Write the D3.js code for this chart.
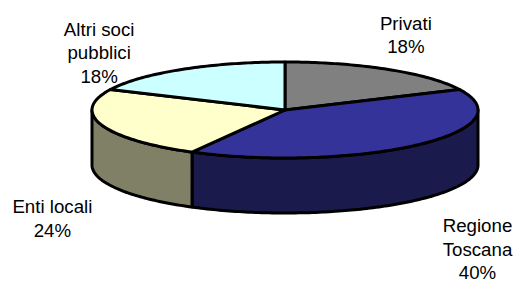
<!DOCTYPE html>
<html>
<head>
<meta charset="utf-8">
<script src="https://cdn.jsdelivr.net/npm/d3@7"></script>
<style>
  html, body { margin: 0; padding: 0; background: #fff; }
  text { font-family: 'Liberation Sans', Arial, sans-serif; }
</style>
</head>
<body>
<div id="chart"></div>
<script>
// data
const categories = ['Privati', 'Regione Toscana', 'Enti locali', 'Altri soci pubblici'];
const labelLines = [['Privati'], ['Regione', 'Toscana'], ['Enti locali'], ['Altri soci', 'pubblici']];
const shares = [18, 40, 24, 18];
const topColors = ['#808080', '#333399', '#ffffcc', '#ccffff'];
const sideColors = ['#404040', '#1a1a4c', '#808066', '#668080'];

const makePlot = () => {
  const size = { width: 517, height: 282 };
  const svg = d3.select('#chart').append('svg')
    .attr('width', size.width)
    .attr('height', size.height);

  // ellipse geometry of the tilted pie
  const cx = 285;
  const cy = 110;
  const rx = 193;
  const ry = 48;
  const depth = 55;

  const pt = (a, dy = 0) => [cx + rx * Math.sin(a), cy - ry * Math.cos(a) + dy];
  const arcPts = (a0, a1, dy = 0) => {
    const n = Math.max(2, Math.ceil(Math.abs(a1 - a0) / (Math.PI / 180)));
    return d3.range(n + 1).map((i) => pt(a0 + ((a1 - a0) * i) / n, dy));
  };
  const line = d3.line();

  const pie = d3.pie().sort(null).value((d) => d);
  const arcs = pie(shares);

  // side walls (only the front half is visible)
  const sides = svg.append('g');
  arcs.forEach((d, i) => {
    const a0 = Math.max(d.startAngle, Math.PI / 2);
    const a1 = Math.min(d.endAngle, (3 * Math.PI) / 2);
    if (a1 <= a0) return;
    const pts = arcPts(a0, a1).concat(arcPts(a1, a0, depth));
    sides.append('path')
      .attr('d', `${line(pts)}Z`)
      .attr('fill', sideColors[i])
      .attr('stroke', '#000')
      .attr('stroke-width', 3)
      .attr('stroke-linejoin', 'round');
  });

  // top faces
  const tops = svg.append('g');
  arcs.forEach((d, i) => {
    const pts = [[cx, cy]].concat(arcPts(d.startAngle, d.endAngle));
    tops.append('path')
      .attr('d', `${line(pts)}Z`)
      .attr('fill', topColors[i])
      .attr('stroke', '#000')
      .attr('stroke-width', 3)
      .attr('stroke-linejoin', 'round');
  });

  // labels
  const lineH = 23.5;
  const labelNudge = [[-4, -6], [33, 3], [-11, 21], [-61, 0]];
  const labels = svg.append('g');
  arcs.forEach((d, i) => {
    const mid = (d.startAngle + d.endAngle) / 2;
    const front = Math.cos(mid) < 0;
    const ax = cx + (rx + 40) * Math.sin(mid) + labelNudge[i][0];
    const ay = cy - (ry + 40) * Math.cos(mid) + (front ? depth : 0) + labelNudge[i][1];
    const rows = labelLines[i].concat([`${shares[i]}%`]);
    const t = labels.append('text')
      .attr('text-anchor', 'middle')
      .style('font-size', '18.7px')
      .attr('fill', '#000');
    rows.forEach((r, j) => {
      t.append('tspan').attr('x', ax).attr('y', ay + j * lineH).text(r);
    });
  });
};

makePlot();
</script>
</body>
</html>
